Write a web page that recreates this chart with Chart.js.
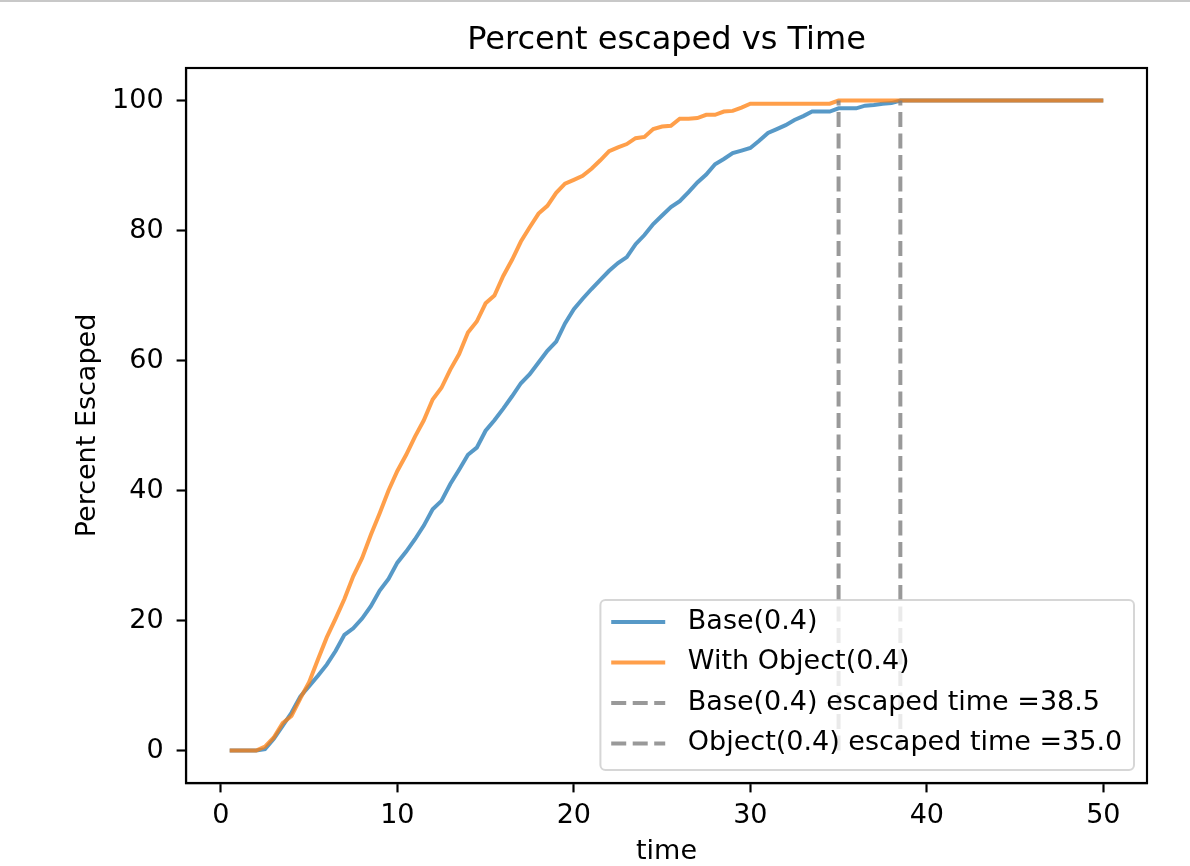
<!DOCTYPE html>
<html>
<head>
<meta charset="utf-8">
<script src="https://cdn.jsdelivr.net/npm/chart.js@4.4.1/dist/chart.umd.min.js"></script>
<style>
  html, body { margin: 0; padding: 0; background: #fff; }
  #wrap { position: relative; width: 1190px; height: 866px; }
  #topline { position: absolute; left: 0; top: 0; width: 1190px; height: 2px; background: #c8c8c8; }
</style>
</head>
<body>
<div id="wrap">
  <canvas id="chart" width="1190" height="866"></canvas>
  <div id="topline"></div>
</div>
<script>
// --- Data ---
const times = [0.5, 1, 1.5, 2, 2.5, 3, 3.5, 4, 4.5, 5, 5.5, 6, 6.5, 7, 7.5, 8, 8.5, 9, 9.5, 10,
  10.5, 11, 11.5, 12, 12.5, 13, 13.5, 14, 14.5, 15, 15.5, 16, 16.5, 17, 17.5, 18, 18.5, 19, 19.5, 20,
  20.5, 21, 21.5, 22, 22.5, 23, 23.5, 24, 24.5, 25, 25.5, 26, 26.5, 27, 27.5, 28, 28.5, 29, 29.5, 30,
  30.5, 31, 31.5, 32, 32.5, 33, 33.5, 34, 34.5, 35, 35.5, 36, 36.5, 37, 37.5, 38, 38.5, 39, 39.5, 40,
  40.5, 41, 41.5, 42, 42.5, 43, 43.5, 44, 44.5, 45, 45.5, 46, 46.5, 47, 47.5, 48, 48.5, 49, 49.5, 50];

const baseEscaped = [0, 0, 0, 0, 0.2, 1.8, 3.8, 5.8, 8.3, 9.9, 11.5, 13.2, 15.3, 17.8, 18.8, 20.3, 22.2, 24.6, 26.4, 28.9,
  30.6, 32.5, 34.6, 37.1, 38.4, 41.0, 43.2, 45.5, 46.6, 49.2, 50.8, 52.6, 54.5, 56.5, 57.9, 59.7, 61.5, 62.9, 65.7, 67.9,
  69.5, 71.0, 72.4, 73.8, 75.0, 75.9, 77.9, 79.3, 81.0, 82.3, 83.6, 84.5, 85.9, 87.4, 88.6, 90.2, 91.0, 91.9, 92.3, 92.7,
  93.8, 95.0, 95.6, 96.2, 97.0, 97.6, 98.3, 98.3, 98.3, 98.8, 98.8, 98.8, 99.2, 99.3, 99.5, 99.6, 100, 100, 100, 100,
  100, 100, 100, 100, 100, 100, 100, 100, 100, 100, 100, 100, 100, 100, 100, 100, 100, 100, 100, 100];

const objectEscaped = [0, 0, 0, 0, 0.6, 2.0, 4.2, 5.3, 8.0, 10.5, 14.0, 17.4, 20.3, 23.3, 26.8, 29.6, 33.2, 36.5, 40.0, 43.0,
  45.5, 48.3, 50.8, 54.0, 55.8, 58.6, 61.0, 64.3, 66.0, 68.8, 70.0, 73.0, 75.5, 78.3, 80.5, 82.6, 83.8, 85.8, 87.2, 87.8,
  88.4, 89.5, 90.8, 92.2, 92.8, 93.3, 94.2, 94.4, 95.6, 96.0, 96.1, 97.2, 97.2, 97.3, 97.8, 97.8, 98.3, 98.4, 98.9, 99.5,
  99.5, 99.5, 99.5, 99.5, 99.5, 99.5, 99.5, 99.5, 99.5, 100, 100, 100, 100, 100, 100, 100, 100, 100, 100, 100,
  100, 100, 100, 100, 100, 100, 100, 100, 100, 100, 100, 100, 100, 100, 100, 100, 100, 100, 100, 100];

const escapeTimes = [38.5, 35.0];
const escapeLabels = ['Base(0.4) escaped time =38.5', 'Object(0.4) escaped time =35.0'];
const xTicks = [0, 10, 20, 30, 40, 50];
const yTicks = [0, 20, 40, 60, 80, 100];

const FONT = 'DejaVu Sans';
const toPoints = (ys) => times.map((t, i) => ({ x: t, y: ys[i] }));

// full box round the plot area
const frame = {
  id: 'frame',
  afterDatasetsDraw(chart) {
    const { ctx, chartArea: a } = chart;
    ctx.save();
    ctx.strokeStyle = '#000';
    ctx.lineWidth = 2.15;
    ctx.strokeRect(a.left, a.top, a.right - a.left, a.bottom - a.top);
    ctx.restore();
  }
};

// matplotlib-like legend in the lower right corner
const boxLegend = {
  id: 'boxLegend',
  afterDraw(chart) {
    const { ctx, chartArea: a } = chart;
    const fs = 27, pad = 10.8, handle = 54, gap = 21.6, row = 40.5;
    const sets = chart.data.datasets;
    ctx.save();
    ctx.font = fs + 'px "' + FONT + '"';
    const textW = Math.max(...sets.map(d => ctx.measureText(d.label).width));
    const w = pad + handle + gap + textW + pad + 2;
    const h = pad * 2 + sets.length * fs + (sets.length - 1) * 13.5;
    const x0 = a.right - 13 - w, y0 = a.bottom - 13 - h;
    ctx.beginPath();
    ctx.roundRect(x0, y0, w, h, 5);
    ctx.fillStyle = 'rgba(255,255,255,0.8)';
    ctx.fill();
    ctx.strokeStyle = 'rgba(204,204,204,0.8)';
    ctx.lineWidth = 2;
    ctx.stroke();
    sets.forEach((d, i) => {
      const cy = y0 + 22 + i * row;
      ctx.beginPath();
      ctx.setLineDash(d.borderDash || []);
      ctx.strokeStyle = d.borderColor;
      ctx.lineWidth = d.borderWidth;
      ctx.moveTo(x0 + pad, cy);
      ctx.lineTo(x0 + pad + handle, cy);
      ctx.stroke();
      ctx.setLineDash([]);
      ctx.fillStyle = '#000';
      ctx.textBaseline = 'middle';
      ctx.textAlign = 'left';
      ctx.fillText(d.label, x0 + pad + handle + gap + 1, cy);
    });
    ctx.restore();
  }
};

const vline = (t, label, order) => ({
  label: label,
  data: [{ x: t, y: 0 }, { x: t, y: 100 }],
  borderColor: 'rgba(128,128,128,0.8)',
  borderWidth: 4,
  borderDash: [15, 6.5],
  pointRadius: 0,
  order: order
});

new Chart(document.getElementById('chart'), {
  type: 'line',
  data: {
    datasets: [
      { label: 'Base(0.4)', data: toPoints(baseEscaped), borderColor: 'rgba(31,119,180,0.75)', borderWidth: 4, pointRadius: 0, tension: 0, order: 4 },
      { label: 'With Object(0.4)', data: toPoints(objectEscaped), borderColor: 'rgba(255,127,14,0.75)', borderWidth: 4, pointRadius: 0, tension: 0, order: 3 },
      vline(escapeTimes[0], escapeLabels[0], 2),
      vline(escapeTimes[1], escapeLabels[1], 1)
    ]
  },
  options: {
    responsive: false,
    animation: false,
    layout: { padding: { top: 0, right: 43, bottom: 0, left: 0 } },
    plugins: {
      legend: { display: false },
      tooltip: { enabled: false },
      title: {
        display: true,
        text: 'Percent escaped vs Time',
        fullSize: false,
        color: '#000',
        font: { family: FONT, size: 32, weight: 'normal' },
        padding: { top: 21.5, bottom: 8.1 }
      }
    },
    scales: {
      x: {
        type: 'linear',
        min: -1.975,
        max: 52.475,
        afterBuildTicks: (s) => { s.ticks = xTicks.map(v => ({ value: v })); },
        afterFit: (s) => { s.height = 83; },
        grid: { drawOnChartArea: false, tickLength: 9.4, tickWidth: 2.15, tickColor: '#000' },
        border: { display: true, color: '#000', width: 2.15 },
        ticks: { color: '#000', padding: 7.4, maxRotation: 0, font: { family: FONT, size: 27 } },
        title: { display: true, text: 'time', color: '#000', font: { family: FONT, size: 27, lineHeight: 1.05 }, padding: { top: 0, bottom: 0 } }
      },
      y: {
        min: -5,
        max: 105,
        afterBuildTicks: (s) => { s.ticks = yTicks.map(v => ({ value: v })); },
        afterFit: (s) => { s.width = 186; },
        grid: { drawOnChartArea: false, tickLength: 9.4, tickWidth: 2.15, tickColor: '#000' },
        border: { display: true, color: '#000', width: 2.15 },
        ticks: { color: '#000', padding: 13, font: { family: FONT, size: 27 } },
        title: { display: true, text: 'Percent Escaped', color: '#000', font: { family: FONT, size: 27 }, padding: { top: 71.8, bottom: 0 } }
      }
    }
  },
  plugins: [frame, boxLegend]
});
</script>
</body>
</html>
